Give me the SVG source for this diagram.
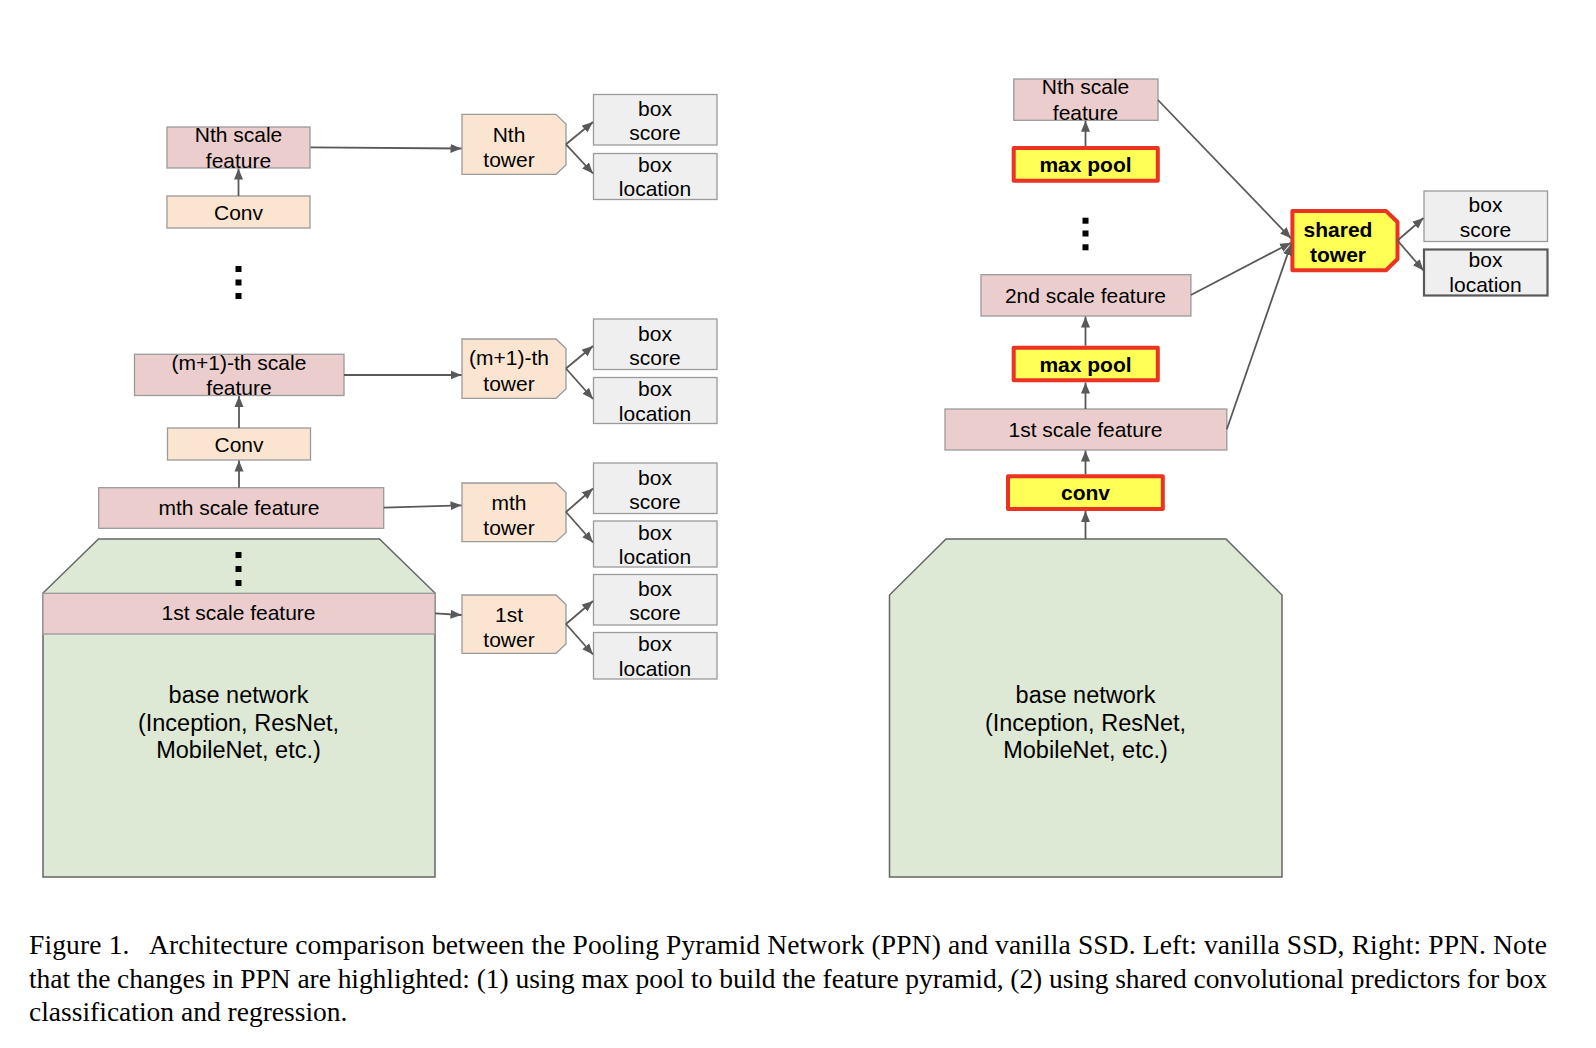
<svg xmlns="http://www.w3.org/2000/svg" width="1596" height="1048" viewBox="0 0 1596 1048">
<style>
.feat{fill:#ebcdcd;stroke:#9a9a9a;stroke-width:1.3}
.conv{fill:#fbe5d1;stroke:#9a9a9a;stroke-width:1.3}
.box{fill:#efefef;stroke:#9a9a9a;stroke-width:1.3}
.boxd{fill:#efefef;stroke:#5a5a5a;stroke-width:2.2}
.base{fill:#dde8d5;stroke:#666;stroke-width:1.5}
.hl{fill:#ffff55;stroke:#ea3323;stroke-width:4;stroke-linejoin:round}
.t{font-family:'Liberation Sans',Arial,sans-serif;font-size:21px;text-anchor:middle;fill:#000}
.tb{font-weight:bold}
.tl{font-size:23.5px}
.cap{font-family:'Liberation Serif','Times New Roman',serif;font-size:27.5px;fill:#000;white-space:pre}
.dot{fill:#000}
.edge{stroke:#595959;stroke-width:1.8;fill:none;marker-end:url(#ah)}
</style>
<defs>
<marker id="ah" markerUnits="userSpaceOnUse" markerWidth="12" markerHeight="10" refX="11" refY="5" orient="auto">
<path d="M0,0.5 L11,5 L0,9.5 Z" fill="#595959"/>
</marker>
</defs>
<rect width="1596" height="1048" fill="#fff"/>

<!-- LEFT: vanilla SSD -->
<g id="base-left">
<polygon class="base" points="98.5,539 379.5,539 435,593 435,877 43,877 43,593"/>
<text class="t tl" x="238.5" y="703">base network</text>
<text class="t tl" x="238.5" y="731">(Inception, ResNet,</text>
<text class="t tl" x="238.5" y="758">MobileNet, etc.)</text>
<rect class="dot" x="235.5" y="552" width="6" height="6"/>
<rect class="dot" x="235.5" y="566" width="6" height="6"/>
<rect class="dot" x="235.5" y="580" width="6" height="6"/>
</g>
<g id="first-feature-left">
<rect class="feat" x="43" y="593.3" width="392" height="40.7"/>
<text class="t" x="238.5" y="620">1st scale feature</text>
</g>
<g id="mth-feature">
<rect class="feat" x="98.7" y="487.7" width="285" height="40.6"/>
<text class="t" x="239" y="515">mth scale feature</text>
</g>
<g id="conv-left-2">
<rect class="conv" x="167.5" y="428" width="143" height="32"/>
<text class="t" x="239" y="452">Conv</text>
</g>
<g id="m1-feature">
<rect class="feat" x="134.5" y="354.3" width="209.5" height="41.2"/>
<text class="t" x="239" y="370">(m+1)-th scale</text>
<text class="t" x="239" y="395">feature</text>
</g>
<g id="dots-left">
<rect class="dot" x="235.5" y="266" width="6" height="6"/>
<rect class="dot" x="235.5" y="279.5" width="6" height="6"/>
<rect class="dot" x="235.5" y="293" width="6" height="6"/>
</g>
<g id="conv-left-1">
<rect class="conv" x="167" y="196" width="143" height="32"/>
<text class="t" x="238.5" y="220">Conv</text>
</g>
<g id="nth-feature-left">
<rect class="feat" x="167" y="127" width="143" height="41"/>
<text class="t" x="238.5" y="142">Nth scale</text>
<text class="t" x="238.5" y="168">feature</text>
</g>

<g id="tower-nth">
<path class="conv" d="M462,114.3 H556 L566,124 V165 L556,174.3 H462 Z"/>
<text class="t" x="509" y="141.5">Nth</text>
<text class="t" x="509" y="167.3">tower</text>
</g>
<g id="tower-m1">
<path class="conv" d="M462,339 H556 L566,348.5 V389 L556,398.3 H462 Z"/>
<text class="t" x="509" y="365">(m+1)-th</text>
<text class="t" x="509" y="391">tower</text>
</g>
<g id="tower-m">
<path class="conv" d="M462,483 H556 L566,492.5 V532.5 L556,541.7 H462 Z"/>
<text class="t" x="509" y="510">mth</text>
<text class="t" x="509" y="535">tower</text>
</g>
<g id="tower-1">
<path class="conv" d="M462,595 H556 L566,604.5 V644 L556,653.3 H462 Z"/>
<text class="t" x="509" y="622">1st</text>
<text class="t" x="509" y="647">tower</text>
</g>

<g id="score-1">
<rect class="box" x="593.5" y="94.5" width="123.5" height="50.5"/>
<text class="t" x="655" y="116">box</text>
<text class="t" x="655" y="140">score</text>
</g>
<g id="loc-1">
<rect class="box" x="593.5" y="153.5" width="123.5" height="46"/>
<text class="t" x="655" y="171.5">box</text>
<text class="t" x="655" y="196">location</text>
</g>
<g id="score-2">
<rect class="box" x="593.5" y="319" width="123.5" height="50.5"/>
<text class="t" x="655" y="340.5">box</text>
<text class="t" x="655" y="364.5">score</text>
</g>
<g id="loc-2">
<rect class="box" x="593.5" y="377.5" width="123.5" height="46"/>
<text class="t" x="655" y="396">box</text>
<text class="t" x="655" y="420.5">location</text>
</g>
<g id="score-3">
<rect class="box" x="593.5" y="463" width="123.5" height="50.5"/>
<text class="t" x="655" y="484.5">box</text>
<text class="t" x="655" y="508.5">score</text>
</g>
<g id="loc-3">
<rect class="box" x="593.5" y="521" width="123.5" height="46"/>
<text class="t" x="655" y="539.5">box</text>
<text class="t" x="655" y="564">location</text>
</g>
<g id="score-4">
<rect class="box" x="593.5" y="574.5" width="123.5" height="50.5"/>
<text class="t" x="655" y="596">box</text>
<text class="t" x="655" y="620">score</text>
</g>
<g id="loc-4">
<rect class="box" x="593.5" y="632.5" width="123.5" height="46.5"/>
<text class="t" x="655" y="651">box</text>
<text class="t" x="655" y="675.5">location</text>
</g>

<!-- RIGHT: PPN -->
<g id="base-right">
<polygon class="base" points="946,539 1226,539 1282,595 1282,877 889.5,877 889.5,595"/>
<text class="t tl" x="1085.5" y="703">base network</text>
<text class="t tl" x="1085.5" y="731">(Inception, ResNet,</text>
<text class="t tl" x="1085.5" y="758">MobileNet, etc.)</text>
</g>
<g id="conv-right">
<rect class="hl" x="1008" y="476.3" width="154.8" height="32.7"/>
<text class="t tb" x="1085.5" y="500">conv</text>
</g>
<g id="first-feature-right">
<rect class="feat" x="945" y="409" width="281.8" height="41"/>
<text class="t" x="1085.5" y="436.5">1st scale feature</text>
</g>
<g id="maxpool-2">
<rect class="hl" x="1013.7" y="347.7" width="144.1" height="32.6"/>
<text class="t tb" x="1085.5" y="371.5">max pool</text>
</g>
<g id="second-feature">
<rect class="feat" x="981" y="274.7" width="209.9" height="41.3"/>
<text class="t" x="1085.5" y="303">2nd scale feature</text>
</g>
<g id="dots-right">
<rect class="dot" x="1082.5" y="217.7" width="6" height="6"/>
<rect class="dot" x="1082.5" y="230.5" width="6" height="6"/>
<rect class="dot" x="1082.5" y="244.3" width="6" height="6"/>
</g>
<g id="maxpool-1">
<rect class="hl" x="1013.7" y="148" width="144.1" height="32.7"/>
<text class="t tb" x="1085.5" y="172">max pool</text>
</g>
<g id="nth-feature-right">
<rect class="feat" x="1013.8" y="79" width="144.2" height="41.3"/>
<text class="t" x="1085.5" y="94.3">Nth scale</text>
<text class="t" x="1085.5" y="120">feature</text>
</g>
<g id="shared-tower">
<path class="hl" d="M1292.4,211 H1386 L1397.5,222 V259 L1386,270.3 H1292.4 Z"/>
<text class="t tb" x="1338" y="237.3">shared</text>
<text class="t tb" x="1338" y="261.7">tower</text>
</g>
<g id="score-right">
<rect class="box" x="1424" y="191" width="123.5" height="50.5"/>
<text class="t" x="1485.5" y="211.5">box</text>
<text class="t" x="1485.5" y="236.5">score</text>
</g>
<g id="loc-right">
<rect class="boxd" x="1424" y="249.5" width="123.5" height="46"/>
<text class="t" x="1485.5" y="267">box</text>
<text class="t" x="1485.5" y="292">location</text>
</g>

<g id="connectors">
<line class="edge" x1="238.5" y1="196" x2="238.5" y2="168.5"/>
<line class="edge" x1="239" y1="428" x2="239" y2="396"/>
<line class="edge" x1="239" y1="487.7" x2="239" y2="460.5"/>
<line class="edge" x1="310.5" y1="147.3" x2="461.5" y2="148.5"/>
<line class="edge" x1="344" y1="375" x2="461.5" y2="375"/>
<line class="edge" x1="383.7" y1="507.7" x2="461.5" y2="505.3"/>
<line class="edge" x1="435" y1="613.3" x2="461.5" y2="615"/>
<line class="edge" x1="566" y1="144.3" x2="593" y2="122"/>
<line class="edge" x1="566" y1="144.3" x2="593" y2="173.5"/>
<line class="edge" x1="566" y1="368.5" x2="593" y2="346"/>
<line class="edge" x1="566" y1="368.5" x2="593" y2="399"/>
<line class="edge" x1="566" y1="512" x2="593" y2="488.5"/>
<line class="edge" x1="566" y1="512" x2="593" y2="542.5"/>
<line class="edge" x1="566" y1="624" x2="593" y2="601"/>
<line class="edge" x1="566" y1="624" x2="593" y2="654.5"/>
<line class="edge" x1="1085.5" y1="539" x2="1085.5" y2="511"/>
<line class="edge" x1="1085.5" y1="474.3" x2="1085.5" y2="450.5"/>
<line class="edge" x1="1085.5" y1="409" x2="1085.5" y2="382.5"/>
<line class="edge" x1="1085.5" y1="345.7" x2="1085.5" y2="316.5"/>
<line class="edge" x1="1085.5" y1="146" x2="1085.5" y2="120.8"/>
<line class="edge" x1="1158" y1="100" x2="1291" y2="238.3"/>
<line class="edge" x1="1190.9" y1="295" x2="1291" y2="242.7"/>
<line class="edge" x1="1226.8" y1="429.3" x2="1291" y2="244.3"/>
<line class="edge" x1="1397.5" y1="240.5" x2="1423.5" y2="218"/>
<line class="edge" x1="1397.5" y1="240.5" x2="1423.5" y2="270.5"/>
</g>

<g id="caption">
<text class="cap" x="29" y="954" textLength="1518" lengthAdjust="spacing">Figure 1.   Architecture comparison between the Pooling Pyramid Network (PPN) and vanilla SSD. Left: vanilla SSD, Right: PPN. Note</text>
<text class="cap" x="29" y="987.5" textLength="1518" lengthAdjust="spacing">that the changes in PPN are highlighted: (1) using max pool to build the feature pyramid, (2) using shared convolutional predictors for box</text>
<text class="cap" x="29" y="1021">classification and regression.</text>
</g>
</svg>
